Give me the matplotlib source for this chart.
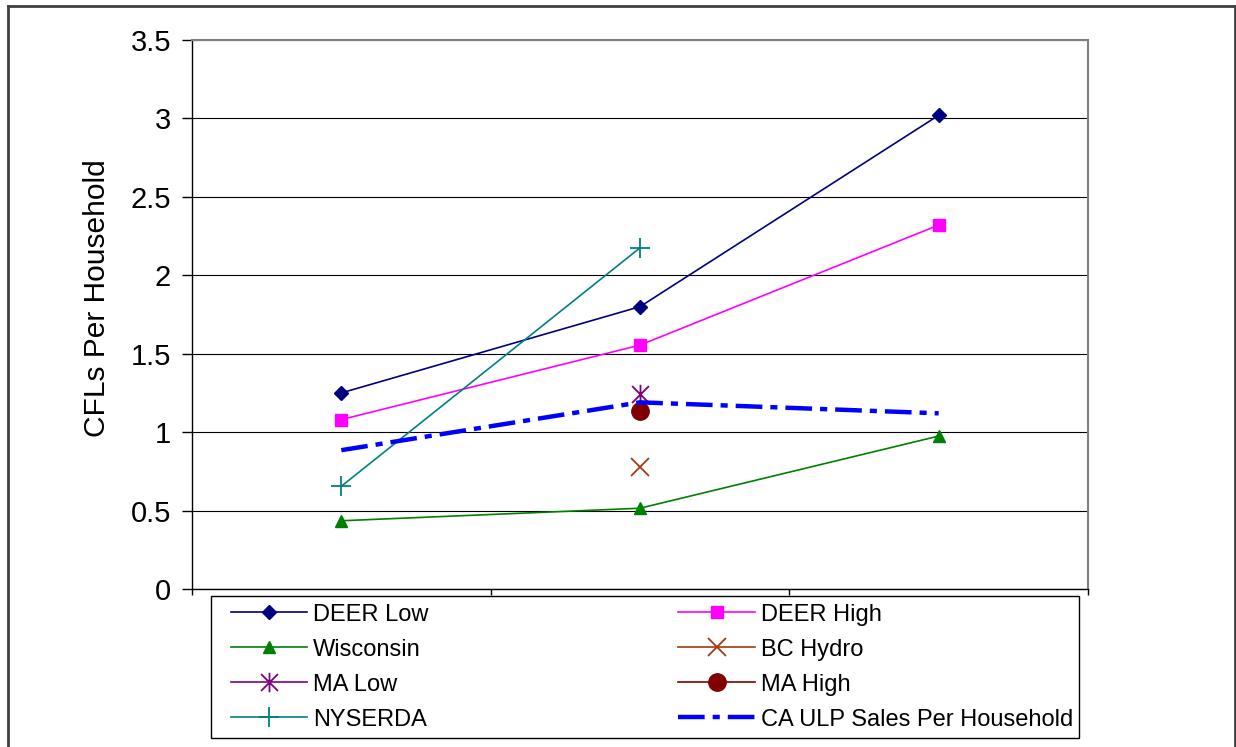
import numpy as np
import matplotlib.pyplot as plt
from matplotlib.lines import Line2D
from matplotlib.patches import Rectangle
from matplotlib.path import Path

plt.rcParams['font.family'] = ['Liberation Sans', 'DejaVu Sans']

nan = np.nan

# CFLs per household, three program groups
deer_low = [1.25, 1.80, 3.02]
deer_high = [1.08, 1.555, 2.32]
wisconsin = [0.435, 0.515, 0.975]
bc_hydro = [nan, 0.78, nan]
ma_low = [nan, 1.24, nan]
ma_high = [nan, 1.135, nan]
nyserda = [0.655, 2.175, nan]
ca_ulp = [0.885, 1.19, 1.12]

yticks = [0, 0.5, 1, 1.5, 2, 2.5, 3, 3.5]
ylabel = 'CFLs Per Household'

# excel style "star": an x with a vertical bar through it
star = Path([(-1, -1), (1, 1), (-1, 1), (1, -1), (0, -1.15), (0, 1.15)],
            [Path.MOVETO, Path.LINETO, Path.MOVETO, Path.LINETO,
             Path.MOVETO, Path.LINETO])

W, H = 1236, 747
fig = plt.figure(figsize=(W / 100, H / 100), dpi=100)
ax = fig.add_axes([192 / W, 1 - 589 / H, (1088 - 192) / W, (589 - 40) / H])

x = np.arange(len(deer_low)) + 1

series = [
    ('DEER Low', deer_low, dict(color='#000080', marker='D', ms=7.5)),
    ('DEER High', deer_high, dict(color='#FF00FF', marker='s', ms=8.5)),
    ('Wisconsin', wisconsin, dict(color='#008000', marker='^', ms=9)),
    ('BC Hydro', bc_hydro, dict(color='#A33A0E', marker='x', ms=12.5, mew=1.3)),
    ('MA Low', ma_low, dict(color='#800080', marker=star, ms=14, mew=1.3)),
    ('MA High', ma_high, dict(color='#800000', marker='o', ms=12.5)),
    ('NYSERDA', nyserda, dict(color='#008080', marker='+', ms=15, mew=1.3)),
]

handles = {}
for name, vals, style in series:
    ln, = ax.plot(x, vals, lw=1.2, label=name, zorder=3, **style)
    handles[name] = ln

ca, = ax.plot(x, ca_ulp, color='#0000FF', lw=3.2, label='CA ULP Sales Per Household',
              zorder=4, dashes=(6, 1.8, 1.6, 1.8))
handles['CA ULP Sales Per Household'] = ca

ax.set_xlim(0.5, 3.5)
ax.set_ylim(0, 3.5)
ax.set_xticks([0.5, 1.5, 2.5, 3.5])
ax.set_xticklabels([])
ax.set_yticks(yticks)
ax.set_yticklabels([f'{t:g}' for t in yticks], fontsize=21)
ax.tick_params(axis='y', direction='out', length=7, width=1, pad=8)
ax.tick_params(axis='x', direction='out', length=4, width=1)

ax.yaxis.grid(True, color='black', lw=0.8)
ax.set_axisbelow(True)
for side in ['top', 'right']:
    ax.spines[side].set_color('#808080')
    ax.spines[side].set_linewidth(1.5)
for side in ['left', 'bottom']:
    ax.spines[side].set_color('black')
    ax.spines[side].set_linewidth(1)

ax.set_ylabel(ylabel, fontsize=21.5)
ax.yaxis.set_label_coords(-0.09, 0.53)

# legend: column-major order so the rows read across
order = ['DEER Low', 'Wisconsin', 'MA Low', 'NYSERDA',
         'DEER High', 'BC Hydro', 'MA High', 'CA ULP Sales Per Household']
leg = fig.legend([handles[k] for k in order], order, ncol=2, mode='expand',
                 loc='upper left', frameon=False, fontsize=17,
                 bbox_to_anchor=(226 / W, 0, (1078 - 226) / W, 1 - 599 / H),
                 borderaxespad=0, borderpad=0.2, handlelength=3.25,
                 handletextpad=0.25, labelspacing=0.55)
fig.add_artist(Rectangle((211 / W, 1 - 738 / H), (1079 - 211) / W, (738 - 596) / H,
                         transform=fig.transFigure, fill=False,
                         edgecolor='black', lw=1))

# outer chart frame
frame_kw = dict(transform=fig.transFigure, color='#404040', lw=2)
fig.add_artist(Line2D([8 / W, 8 / W], [0, 1 - 6 / H], **frame_kw))
fig.add_artist(Line2D([8 / W, 1235 / W], [1 - 6 / H, 1 - 6 / H], **frame_kw))
fig.add_artist(Line2D([1235 / W, 1235 / W], [0, 1 - 6 / H], **frame_kw))

fig.savefig('out.png', dpi=100)
